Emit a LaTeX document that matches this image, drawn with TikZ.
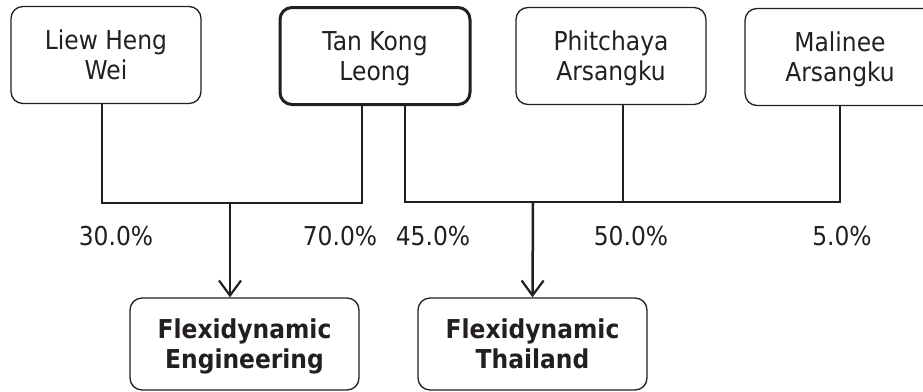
\documentclass[tikz,border=0pt]{standalone}
\usepackage{fontspec}
\setmainfont{DejaVu Sans}[FakeStretch=0.9]
\usetikzlibrary{arrows.meta}
\definecolor{boxline}{RGB}{35, 31, 32}

\begin{document}
\begin{tikzpicture}[x=1pt, y=-1pt,
	person/.style={draw=boxline, text=boxline, line width=1.3pt, rounded corners=12pt, minimum width=190pt, minimum height=97pt, align=center, text depth=0pt, font=\fontsize{26}{30}\selectfont},
	owner/.style={person, line width=3pt},
	firm/.style={person, minimum width=229pt, minimum height=92pt, font=\fontsize{26}{30}\selectfont\bfseries},
	share/.style={text=boxline, font=\fontsize{26}{30}\selectfont},
	link/.style={draw=boxline, line width=1.5pt},
	flow/.style={draw=boxline, line width=2.5pt, -{Straight Barb[length=15pt, width=22pt, line width=2.2pt]}}]
	
	% --- RAHMEN ---
	\path[use as bounding box] (0,0) rectangle (923,391);
	\clip (0,0) rectangle (923,391);
	
	% --- GESELLSCHAFTER ---
	\node[person] (liew) at (106,55) {Liew Heng\\Wei};
	\node[owner] (tan) at (375,56) {Tan Kong\\Leong};
	\node[person] (phit) at (611,56) {Phitchaya\\Arsangku};
	\node[person] (mal) at (840,57) {Malinee\\Arsangku};
	
	% --- FIRMEN ---
	\node[firm] (eng) at (244.5,344) {Flexidynamic\\Engineering};
	\node[firm] (thai) at (532.5,344) {Flexidynamic\\Thailand};
	
	% --- VERBINDUNGEN ---
	\coordinate (engJ) at (230,203);
	\coordinate (thaiJ) at (533,202);
	\draw[link] ([xshift=-4pt]liew.south) |- (engJ) -| ([xshift=-13pt]tan.south);
	\draw[flow] (engJ) -- (eng.north -| engJ);
	\draw[link] ([xshift=30pt]tan.south) |- (thaiJ) -| (mal.south);
	\draw[link] ([xshift=12pt]phit.south) |- (thaiJ);
	\draw[flow] (thaiJ) -- (thai.north);
	
	% --- ANTEILE ---
	\node[share] (p30) at (116,236) {30.0\%};
	\node[share] (p70) at (340,236) {70.0\%};
	\node[share] (p45) at (433,236) {45.0\%};
	\node[share] (p50) at (631,236) {50.0\%};
	\node[share] (p5) at (842,236) {5.0\%};
	
\end{tikzpicture}
\end{document}
